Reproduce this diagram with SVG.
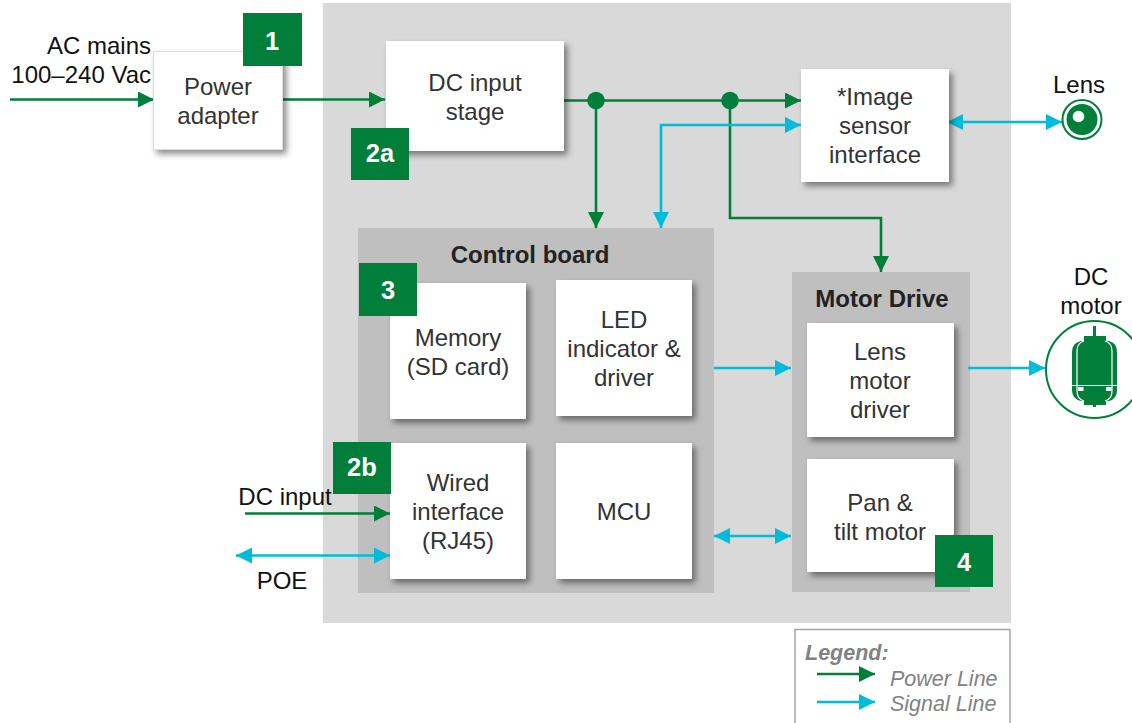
<svg xmlns="http://www.w3.org/2000/svg" width="1132" height="723" viewBox="0 0 1132 723">
<style>
text{font-family:"Liberation Sans",Arial,sans-serif;font-size:24px;fill:#333;text-anchor:middle}
.k{fill:#111}
.box{fill:#fff;filter:url(#sh)}
.badge{fill:#007e3a}
.bt{fill:#fff;font-weight:bold;font-size:25.500px}
.h{font-weight:bold;fill:#222}
.p{fill:none;stroke:#007e3a;stroke-width:2.600}
.s{fill:none;stroke:#00bcd8;stroke-width:2.600}
.ph{fill:#007e3a}
.sh{fill:#00bcd8}
.lg{font-size:21.500px;font-style:italic;fill:#808285;text-anchor:start}
</style>
<defs>
<filter id="sh" x="-15%" y="-15%" width="135%" height="135%"><feDropShadow dx="3.500" dy="4" stdDeviation="3" flood-color="#000" flood-opacity="0.45"/></filter>
<marker id="ap" markerUnits="userSpaceOnUse" markerWidth="16" markerHeight="16" refX="16" refY="8" orient="auto-start-reverse"><path d="M0 0L16 8L0 16Z" class="ph"/></marker>
<marker id="as" markerUnits="userSpaceOnUse" markerWidth="16" markerHeight="16" refX="16" refY="8" orient="auto-start-reverse"><path d="M0 0L16 8L0 16Z" class="sh"/></marker>
</defs>
<rect id="enclosure" x="323" y="3" width="688" height="620" fill="#d9d9d9"/>
<g id="control-board"><rect x="358" y="228" width="356" height="365" fill="#bfbfbf"/><text class="h" x="530" y="263">Control board</text></g>
<g id="motor-drive"><rect x="792" y="272" width="178" height="320" fill="#bfbfbf"/><text class="h" x="882" y="307">Motor Drive</text></g>
<g id="connectors">
<path class="p" marker-end="url(#ap)" d="M10 99.500H154"/>
<path class="p" marker-end="url(#ap)" d="M283 99.500H385"/>
<path class="p" marker-end="url(#ap)" d="M564 100.500H801"/>
<path class="p" marker-end="url(#ap)" d="M596 100V228"/>
<path class="p" marker-end="url(#ap)" d="M730 100V218H881V272"/>
<path class="s" marker-start="url(#as)" marker-end="url(#as)" d="M661 228V125H801"/>
<path class="s" marker-start="url(#as)" marker-end="url(#as)" d="M947 122H1062"/>
<path class="s" marker-end="url(#as)" d="M714 368H791"/>
<path class="s" marker-end="url(#as)" d="M968 368H1045"/>
<path class="s" marker-start="url(#as)" marker-end="url(#as)" d="M714 536H791"/>
<path class="p" marker-end="url(#ap)" d="M245 513.500H390"/>
<path class="s" marker-start="url(#as)" marker-end="url(#as)" d="M236 555.500H390"/>
<circle class="ph" cx="596" cy="100.500" r="8.800"/>
<circle class="ph" cx="730" cy="100.500" r="8.800"/>
</g>
<g id="power-adapter"><rect class="box" x="153.500" y="51.500" width="129" height="98" stroke="#ddd"/><text x="218" y="95">Power</text><text x="218" y="124">adapter</text></g>
<g id="dc-input-stage"><rect class="box" x="386" y="41" width="178" height="110"/><text x="475" y="91">DC input</text><text x="475" y="120">stage</text></g>
<g id="image-sensor"><rect class="box" x="801" y="69" width="148" height="113"/><text x="875" y="105">*Image</text><text x="875" y="134">sensor</text><text x="875" y="163">interface</text></g>
<g id="memory"><rect class="box" x="390" y="283" width="136" height="136"/><text x="458" y="346">Memory</text><text x="458" y="375">(SD card)</text></g>
<g id="led"><rect class="box" x="556" y="280" width="136" height="136"/><text x="624" y="328">LED</text><text x="624" y="357">indicator &amp;</text><text x="624" y="386">driver</text></g>
<g id="wired"><rect class="box" x="390" y="443" width="136" height="136"/><text x="458" y="491">Wired</text><text x="458" y="520">interface</text><text x="458" y="549">(RJ45)</text></g>
<g id="mcu"><rect class="box" x="556" y="443" width="136" height="136"/><text x="624" y="520">MCU</text></g>
<g id="lens-motor"><rect class="box" x="807" y="323" width="147" height="114"/><text x="880" y="360">Lens</text><text x="880" y="389">motor</text><text x="880" y="418">driver</text></g>
<g id="pan-tilt"><rect class="box" x="807" y="459" width="147" height="113"/><text x="880" y="511">Pan &amp;</text><text x="880" y="540">tilt motor</text></g>
<g id="badge-1"><rect class="badge" x="243" y="13" width="59" height="53"/><text class="bt" x="272" y="50">1</text></g>
<g id="badge-2a"><rect class="badge" x="351" y="128" width="58" height="52"/><text class="bt" x="380" y="162">2a</text></g>
<g id="badge-3"><rect class="badge" x="359" y="263" width="58" height="53"/><text class="bt" x="388" y="299">3</text></g>
<g id="badge-2b"><rect class="badge" x="333" y="442" width="58" height="52"/><text class="bt" x="362" y="476">2b</text></g>
<g id="badge-4"><rect class="badge" x="935" y="535" width="58" height="52"/><text class="bt" x="964" y="571">4</text></g>
<g id="ac-mains"><text class="k" x="151" y="54" style="text-anchor:end">AC mains</text><text class="k" x="151" y="83" style="text-anchor:end">100–240 Vac</text></g>
<g id="dc-input"><text class="k" x="285" y="505">DC input</text></g>
<g id="poe"><text class="k" x="282" y="589">POE</text></g>
<g id="lens"><text class="k" x="1079" y="93">Lens</text>
<circle cx="1082" cy="119.500" r="19.500" fill="#fff" stroke="#007e3a" stroke-width="2"/>
<circle cx="1082" cy="119.500" r="15.500" class="ph"/>
<circle cx="1078.500" cy="116.500" r="5.800" fill="#fff"/></g>
<g id="dc-motor"><text class="k" x="1091" y="285">DC</text><text class="k" x="1091" y="314">motor</text>
<circle cx="1094.500" cy="369.500" r="48.500" fill="#fff" stroke="#007e3a" stroke-width="2"/>
<path class="ph" d="M1093 326h3v10h-3zM1084 336h22v5h-22zM1084 400h22v5h-22zM1093 405h3v2h-3z"/>
<path class="ph" d="M1081 341h28q8 2 8 11v38q0 9-8 11h-28q-9-2-9-11v-38q0-9 9-11z"/>
<path d="M1084 341q-7 2-7 10v40q0 8 7 10M1105 341q7 2 7 10v40q0 8-7 10M1072 385.500h45" fill="none" stroke="#fff" stroke-width="1.200"/>
<path d="M1078 387h5.500v4h-5.500zM1106 387h5.500v4h-5.500z" fill="#fff"/></g>
<g id="legend">
<path d="M795 723V629.500H1010V723" fill="none" stroke="#a6a6a6" stroke-width="1.500"/>
<text class="lg" x="805" y="660" style="font-weight:bold">Legend:</text>
<path class="p" marker-end="url(#ap)" d="M817 674H875"/>
<path class="s" marker-end="url(#as)" d="M817 702H875"/>
<text class="lg" x="890" y="686">Power Line</text>
<text class="lg" x="890" y="711">Signal Line</text>
</g>
</svg>
